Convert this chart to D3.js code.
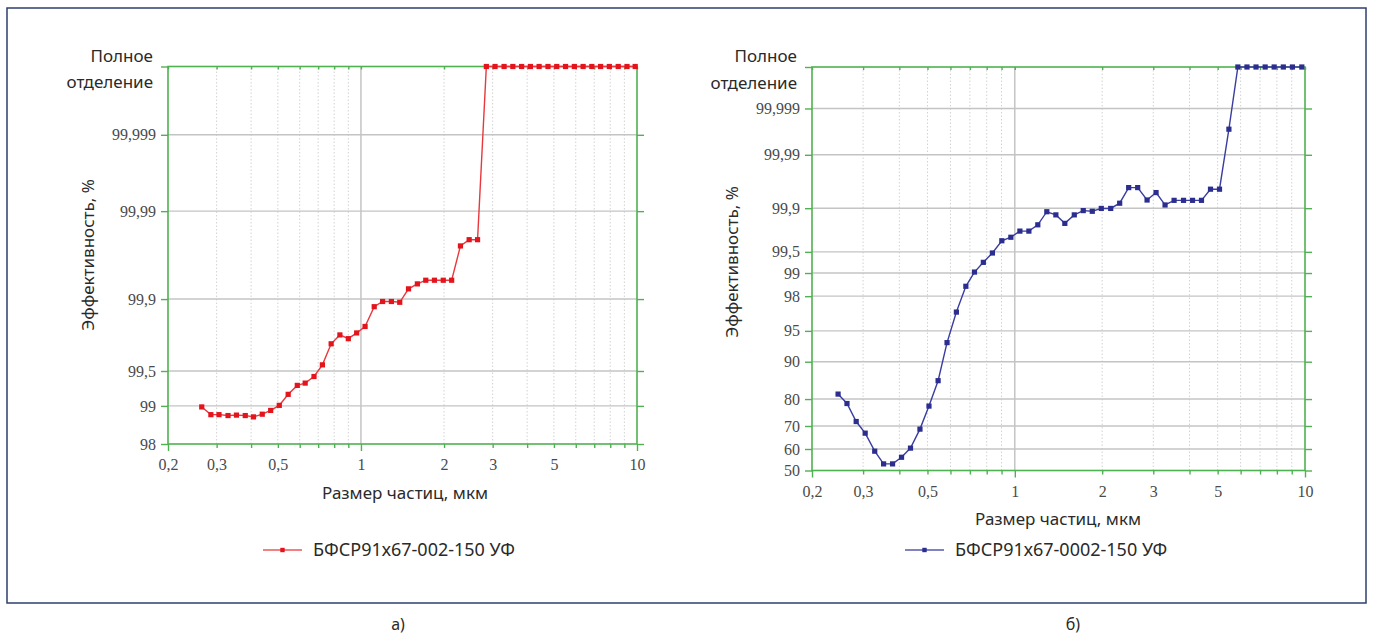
<!DOCTYPE html>
<html><head><meta charset="utf-8">
<script src="https://cdn.jsdelivr.net/npm/d3@7"></script>
<style>body{margin:0;background:#fff;} svg{display:block}</style>
</head><body>
<svg id="c" width="1373" height="639"></svg>
<script>
// ---------- data ----------
const FULL = 99.9999; // "Полное отделение"
const xTicks = [0.2,0.3,0.4,0.5,0.6,0.7,0.8,0.9,1,2,3,4,5,6,7,8,9,10];
const xTickLabels = ["0,2","0,3","","0,5","","","","","1","2","3","","5","","","","","10"];

const leftYTicks = [98,99,99.5,99.9,99.99,99.999,FULL];
const leftYTickLabels = ["98","99","99,5","99,9","99,99","99,999","Полное отделение"];
const rightYTicks = [50,60,70,80,90,95,98,99,99.5,99.9,99.99,99.999,FULL];
const rightYTickLabels = ["50","60","70","80","90","95","98","99","99,5","99,9","99,99","99,999","Полное отделение"];

const leftSizes = [0.265,0.286,0.306,0.330,0.354,0.381,0.408,0.439,0.471,0.506,0.545,0.588,0.628,0.676,0.725,0.780,0.839,0.900,0.965,1.035,1.117,1.198,1.289,1.382,1.487,1.601,1.717,1.846,1.987,2.131,2.293,2.466,2.645,
  2.846,3.06,3.30,3.55,3.82,4.11,4.42,4.76,5.12,5.51,5.93,6.38,6.86,7.38,7.94,8.55,9.2,9.85];
const leftEff = [98.98,98.82,98.82,98.80,98.81,98.80,98.77,98.83,98.91,99.01,99.20,99.33,99.36,99.44,99.56,99.72,99.77,99.75,99.78,99.81,99.88,99.894,99.894,99.892,99.922,99.931,99.937,99.937,99.937,99.937,99.974,99.978,99.978,
  99.9999,99.9999,99.9999,99.9999,99.9999,99.9999,99.9999,99.9999,99.9999,99.9999,99.9999,99.9999,99.9999,99.9999,99.9999,99.9999,99.9999,99.9999];

const rightSizes = [0.246,0.264,0.284,0.305,0.329,0.353,0.379,0.407,0.437,0.471,0.506,0.544,0.584,0.629,0.678,0.726,0.779,0.837,0.902,0.969,1.041,1.118,1.200,1.289,1.385,1.487,1.603,1.721,1.849,1.986,2.140,2.298,2.468,2.651,2.856,3.067,3.294,3.539,3.814,4.096,4.398,4.724,5.074,5.467,
  5.87,6.31,6.78,7.29,7.83,8.42,9.05,9.75];
const rightEff = [81.6,78.5,71.8,67.0,59.0,53.1,53.1,56.2,60.4,68.7,77.6,85.5,93.4,96.9,98.5,99.03,99.29,99.48,99.66,99.70,99.76,99.76,99.81,99.885,99.87,99.82,99.87,99.89,99.887,99.899,99.899,99.918,99.957,99.957,99.928,99.947,99.912,99.927,99.927,99.927,99.927,99.954,99.954,99.9971,
  99.9999,99.9999,99.9999,99.9999,99.9999,99.9999,99.9999,99.9999];

const xTitle = "Размер частиц, мкм";
const yTitle = "Эффективность, %";
const leftSeriesName = "БФСР91х67-002-150 УФ";
const rightSeriesName = "БФСР91х67-0002-150 УФ";
const panelLabels = ["а)","б)"];

// ---------- probability (probit) transform ----------
function probit(p){
  const a=[-3.969683028665376e+01,2.209460984245205e+02,-2.759285104469687e+02,1.383577518672690e+02,-3.066479806614716e+01,2.506628277459239e+00];
  const b=[-5.447609879822406e+01,1.615858368580409e+02,-1.556989798598866e+02,6.680131188771972e+01,-1.328068155833025e+01];
  const c=[-7.784894002430293e-03,-3.223964580411365e-01,-2.400758277161838e+00,-2.549732539343734e+00,4.374664141464968e+00,2.938163982698783e+00];
  const d=[7.784695709041462e-03,3.224671290700398e-01,2.445134137142996e+00,3.754408661907416e+00];
  const pl=0.02425, ph=1-pl;
  let q,r;
  if(p<pl){q=Math.sqrt(-2*Math.log(p));
    return (((((c[0]*q+c[1])*q+c[2])*q+c[3])*q+c[4])*q+c[5])/((((d[0]*q+d[1])*q+d[2])*q+d[3])*q+1);}
  if(p<=ph){q=p-0.5;r=q*q;
    return (((((a[0]*r+a[1])*r+a[2])*r+a[3])*r+a[4])*r+a[5])*q/(((((b[0]*r+b[1])*r+b[2])*r+b[3])*r+b[4])*r+1);}
  q=Math.sqrt(-2*Math.log(1-p));
  return -(((((c[0]*q+c[1])*q+c[2])*q+c[3])*q+c[4])*q+c[5])/((((d[0]*q+d[1])*q+d[2])*q+d[3])*q+1);
}

const svg = d3.select("#c");
const SANS = "'Noto Sans', 'DejaVu Sans', sans-serif";
const SERIF = "'Liberation Serif', 'DejaVu Serif', serif";
const GREEN = "#4fb250";

svg.append("rect").attr("x",7).attr("y",8).attr("width",1359).attr("height",595)
  .attr("fill","none").attr("stroke","#2f3f6b").attr("stroke-width",1.5);

function drawChart(o){
  const g = svg.append("g");
  const x = d3.scaleLog().domain([0.2,10]).range([o.x0,o.x1]);
  const yz = d3.scaleLinear().domain([probit(o.yTicks[0]/100), probit(FULL/100)]).range([o.y0,o.y1]);
  const y = v => yz(probit(v/100));

  // vertical grid
  g.append("g").selectAll("line").data(xTicks.filter(t=>t>0.2&&t<10)).join("line")
    .attr("x1",d=>x(d)).attr("x2",d=>x(d)).attr("y1",o.y0).attr("y2",o.y1)
    .attr("stroke",d=>d===1?"#b5b5b5":"#d2d2d2")
    .attr("stroke-width",d=>d===1?1.2:1)
    .attr("stroke-dasharray",d=>d===1?null:"1.5,2");
  // horizontal grid
  g.append("g").selectAll("line").data(o.yTicks.slice(1,-1)).join("line")
    .attr("x1",o.x0).attr("x2",o.x1).attr("y1",d=>y(d)).attr("y2",d=>y(d))
    .attr("stroke","#c4c4c4").attr("stroke-width",1.4);

  const yVals = o.yTicks.map(t=>probit(t/100));
  const n = o.yTicks.length;
  const styleAxis = sel => {
    sel.attr("font-family",SERIF).attr("font-size",16);
    sel.select(".domain").remove();
    sel.selectAll(".tick line").attr("stroke",GREEN).attr("stroke-width",1.4);
    sel.selectAll(".tick text").attr("fill","#4a4a4a").style("font-family",SERIF).style("font-size","16px");
  };
  // left axis
  g.append("g").attr("transform",`translate(${o.x0},0)`)
    .call(d3.axisLeft(yz).tickValues(yVals).tickSize(7).tickPadding(5)
      .tickFormat((d,i)=> i===n-1 ? "" : o.yLabels[i]))
    .call(styleAxis);
  // right axis ticks
  g.append("g").attr("transform",`translate(${o.x1},0)`)
    .call(d3.axisRight(yz).tickValues(yVals.slice(0,-1)).tickSize(7).tickFormat(""))
    .call(styleAxis);
  // bottom axis
  const bx = g.append("g").attr("transform",`translate(0,${o.y0})`)
    .call(d3.axisBottom(x).tickValues(xTicks).tickSize(4).tickPadding(11)
      .tickFormat((d,i)=>xTickLabels[i]))
    .call(styleAxis);
  bx.selectAll(".tick line").filter(d=>d===1||d===10||d===0.2).attr("y2",7);
  // top axis ticks pointing inward
  g.append("g").attr("transform",`translate(0,${o.y1})`)
    .call(d3.axisTop(x).tickValues(xTicks).tickSize(-3).tickFormat(""))
    .call(styleAxis);

  // frame
  g.append("rect").attr("x",o.x0).attr("y",o.y1).attr("width",o.x1-o.x0).attr("height",o.y0-o.y1)
    .attr("fill","none").attr("stroke",GREEN).attr("stroke-width",1.6);

  // "Полное отделение" label
  const parts = o.yLabels[n-1].split(" ");
  const ft = g.append("text").attr("text-anchor","end").attr("fill","#2a2a2a")
    .style("font-family",SANS).style("font-size","17px");
  ft.append("tspan").attr("x",o.x0-15).attr("y",y(FULL)-5).text(parts[0]);
  ft.append("tspan").attr("x",o.x0-15).attr("y",y(FULL)+21.5).text(parts[1]);

  // series
  const pts = o.sizes.map((s,i)=>[s,o.eff[i]]);
  g.append("path").datum(pts)
    .attr("d",d3.line().x(d=>x(d[0])).y(d=>y(d[1])))
    .attr("fill","none").attr("stroke",o.line).attr("stroke-width",1.4);
  g.append("g").selectAll("rect").data(pts).join("rect")
    .attr("x",d=>x(d[0])-2.6).attr("y",d=>y(d[1])-2.6).attr("width",5.2).attr("height",5.2)
    .attr("fill",o.marker);

  // titles
  g.append("text").attr("x",o.xtx).attr("y",o.xty).attr("text-anchor","middle")
    .attr("fill","#2a2a2a").style("font-family",SANS).style("font-size","17px").text(xTitle);
  g.append("text").attr("transform",`translate(${o.ytx},${o.yty}) rotate(-90)`).attr("text-anchor","middle")
    .attr("fill","#2a2a2a").style("font-family",SANS).style("font-size","17px").text(yTitle);

  // legend
  g.append("line").attr("x1",o.lgx).attr("x2",o.lgx+39).attr("y1",o.lgy).attr("y2",o.lgy)
    .attr("stroke",o.line).attr("stroke-width",1.6).attr("opacity",0.85);
  g.append("rect").attr("x",o.lgx+19.5-2.2).attr("y",o.lgy-2.2).attr("width",4.4).attr("height",4.4).attr("fill",o.marker);
  g.append("text").attr("x",o.lgx+50).attr("y",o.lgy+6).attr("fill","#2a2a2a")
    .style("font-family",SANS).style("font-size","18px").text(o.name);

  // panel label
  g.append("text").attr("x",o.plx).attr("y",630).attr("text-anchor","middle").attr("fill","#2a2a2a")
    .style("font-family",SANS).style("font-size","16px").text(o.panel);
}

drawChart({x0:168,x1:637,y0:444,y1:66.5,yTicks:leftYTicks,yLabels:leftYTickLabels,
  sizes:leftSizes,eff:leftEff,line:"#e8383d",marker:"#e3141c",
  xtx:405,xty:499,ytx:94,yty:255,lgx:263,lgy:550,name:leftSeriesName,plx:398,panel:panelLabels[0]});
drawChart({x0:812,x1:1305,y0:470.5,y1:67,yTicks:rightYTicks,yLabels:rightYTickLabels,
  sizes:rightSizes,eff:rightEff,line:"#3a3da0",marker:"#2b2e8f",
  xtx:1058,xty:525,ytx:738,yty:262,lgx:905,lgy:550,name:rightSeriesName,plx:1073,panel:panelLabels[1]});
</script>
</body></html>
